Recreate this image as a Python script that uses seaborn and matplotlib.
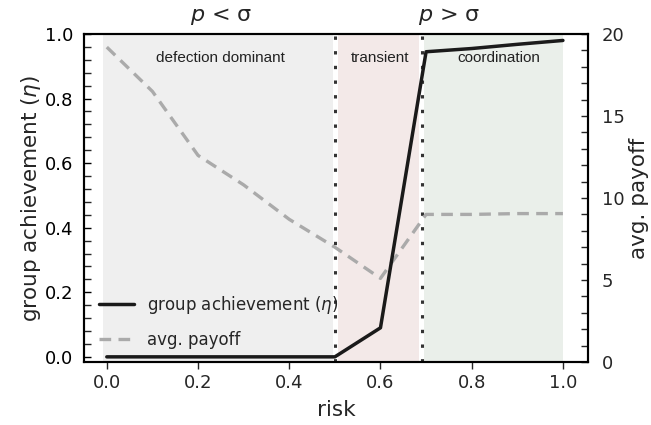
import matplotlib
matplotlib.use("Agg")
import matplotlib.pyplot as plt
from matplotlib.ticker import AutoMinorLocator, MultipleLocator
import seaborn as sns
import pandas as pd
from matplotlib.lines import Line2D

risk = [0.0, 0.1, 0.2, 0.3, 0.4, 0.5, 0.6, 0.7, 0.8, 0.9, 1.0]
eta = [0.0, 0.0, 0.0, 0.0, 0.0, 0.0, 0.09, 0.945, 0.955, 0.968, 0.98]
payoff = [19.2, 16.5, 12.6, 10.8, 8.7, 7.0, 5.1, 9.0, 9.0, 9.05, 9.05]

regions = ["defection dominant", "transient", "coordination"]
region_bounds = [(-0.008, 0.495), (0.506, 0.684), (0.696, 1.0)]
region_colors = ["#efefef", "#f3e9e8", "#eaefea"]
thresholds = [0.5, 0.69]
top_labels = [r"$p$ < σ", r"$p$ > σ"]

df = pd.DataFrame({"risk": risk, "eta": eta, "payoff": payoff})

sns.set_style("ticks")
plt.rcParams["font.family"] = ["DejaVu Sans"]
plt.rcParams["mathtext.fontset"] = "dejavusans"

fig, ax = plt.subplots(figsize=(6.51, 4.25), dpi=100)
fig.subplots_adjust(left=84 / 651, right=588 / 651, top=0.92, bottom=0.1482)
ax2 = ax.twinx()

for (a, b), c in zip(region_bounds, region_colors):
    ax2.axvspan(a, b, color=c, lw=0, zorder=0)
for t in thresholds:
    ax2.axvline(t, color="#333333", lw=2.2, ls=(0, (1.1, 3.7)), zorder=2)

sns.lineplot(data=df, x="risk", y="eta", ax=ax, color="#1a1a1a", lw=2.5, zorder=5)
sns.lineplot(data=df, x="risk", y="payoff", ax=ax2, color="#aaaaaa", lw=2.4,
             ls=(0, (3.5, 2.2)), zorder=4)

ax.set_zorder(ax2.get_zorder() + 1)
ax.patch.set_visible(False)

ax.set_xlim(-0.05, 1.055)
ax.set_ylim(-0.016, 1.0)
ax2.set_ylim(0, 20)

ax.xaxis.set_major_locator(MultipleLocator(0.2))
ax.yaxis.set_major_locator(MultipleLocator(0.2))
ax.yaxis.set_minor_locator(AutoMinorLocator(5))
ax2.yaxis.set_major_locator(MultipleLocator(5))
ax2.yaxis.set_minor_locator(AutoMinorLocator(5))

ax.tick_params(axis="y", direction="in", length=5, width=1, labelsize=13, pad=8, colors="black")
ax.tick_params(axis="y", which="minor", direction="in", length=5, width=1)
ax.tick_params(axis="x", direction="out", length=5, width=1, labelsize=13)
ax2.tick_params(axis="y", direction="in", length=5, width=1, labelsize=13, pad=10)
ax2.tick_params(axis="y", which="minor", direction="in", length=5, width=1)

for a in (ax, ax2):
    for s in a.spines.values():
        s.set_linewidth(1.5)
        s.set_color("black")

ax.set_xlabel("risk", fontsize=15.5, labelpad=6)
ax.set_ylabel("group achievement ($\\eta$)", fontsize=15.5, labelpad=1)
ax2.set_ylabel("avg. payoff", fontsize=15.5, labelpad=3)

centers = [0.25, 0.6, 0.86]
for lab, cx in zip(regions, centers):
    ax.text(cx, 0.925, lab, ha="center", va="center", fontsize=11,
            family="Liberation Sans", color="#222222")

for lab, cx in zip(top_labels, [0.25, 0.75]):
    ax.text(cx, 1.052, lab, ha="center", va="center", fontsize=16,
            transform=ax.get_xaxis_transform())

handles = [Line2D([], [], color="#1a1a1a", lw=2.5),
           Line2D([], [], color="#aaaaaa", lw=2.4, ls=(0, (3.5, 2.2)))]
ax.legend(handles, ["group achievement ($\\eta$)", "avg. payoff"], loc="lower left",
          frameon=False, fontsize=12, bbox_to_anchor=(0.0, -0.005), handlelength=2.1,
          handletextpad=0.8, labelspacing=0.9)

fig.savefig("out.png", dpi=100)
